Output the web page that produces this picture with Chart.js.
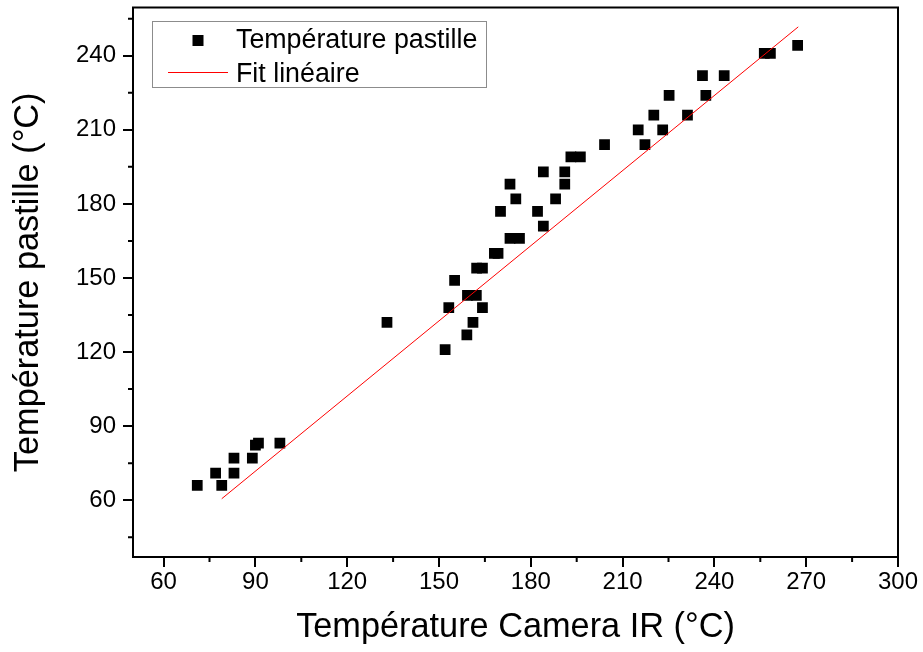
<!DOCTYPE html>
<html>
<head>
<meta charset="utf-8">
<script src="https://cdn.jsdelivr.net/npm/chart.js@4/dist/chart.umd.min.js"></script>
<style>
html, body { margin: 0; padding: 0; background: #fff; }
#wrap { width: 923px; height: 652px; }
</style>
</head>
<body>
<div id="wrap"><canvas id="chart"></canvas></div>
<script>
// data
const camera = [71, 77, 79, 83, 83, 89, 90, 91, 98, 133, 152, 153.2, 155.1, 159.1, 159.3, 161.1, 162.2, 162.3, 164.2, 164.2,
    168.1, 169.3, 170.1, 173.2, 173.2, 175.1, 176.3, 182.2, 184.1, 184.1, 188.1, 191.1, 191.1, 193.1, 196.2,
    204.1, 215.1, 217.3, 220.2, 223.1, 225.2, 231.2, 236.1, 237.2, 243.2, 256.3, 258.3, 267.2];
const pastille = [66, 71, 66, 77, 71, 77, 82.3, 83.1, 83.1, 132, 121, 138, 149, 127, 143, 132, 143, 154, 138, 154,
    160, 160, 177, 166, 188, 182, 166, 177, 171, 193, 182, 188, 193, 199, 199,
    204, 210, 204, 216, 210, 224, 216, 232, 224, 232, 241, 241, 244.2];
const fitX = [79, 267.4];
const fitY = [60.6, 251.7];
const names = ["Température pastille", "Fit linéaire"];
const xTitle = "Température Camera IR (°C)";
const yTitle = "Température pastille (°C)";

const FONT = "'Liberation Sans', Arial, sans-serif";

const frame = {
    id: "frame",
    afterDraw(c) {
        const {ctx, chartArea: a, scales} = c;
        ctx.save();
        ctx.strokeStyle = "#000";
        ctx.lineWidth = 2;
        ctx.beginPath();
        ctx.moveTo(a.left - 1, a.top);
        ctx.lineTo(a.right, a.top);
        ctx.lineTo(a.right, a.bottom + 1);
        ctx.stroke();

        // minor ticks halfway between the major ones
        ["x", "y"].forEach(id => {
            const s = scales[id];
            const vals = new Set();
            s.ticks.forEach(t => { vals.add(t.value - 15); vals.add(t.value + 15); });
            ctx.beginPath();
            vals.forEach(v => {
                if (v <= s.min || v >= s.max) return;
                const p = s.getPixelForValue(v);
                if (id === "x") { ctx.moveTo(p, a.bottom); ctx.lineTo(p, a.bottom + 5); }
                else { ctx.moveTo(a.left, p); ctx.lineTo(a.left - 5, p); }
            });
            ctx.stroke();
        });

        // legend box
        const ds = c.data.datasets;
        ctx.lineWidth = 1;
        ctx.strokeStyle = "#8c8c8c";
        ctx.strokeRect(152.5, 21.5, 334, 66);
        ctx.font = "26.8px " + FONT;
        ctx.fillStyle = "#000";
        ctx.textBaseline = "alphabetic";
        ctx.fillText(ds[1].label, 236, 48);
        ctx.fillText(ds[0].label, 236, 81.5);
        ctx.fillStyle = ds[1].backgroundColor;
        ctx.fillRect(192.5, 35, 11, 11);
        ctx.strokeStyle = ds[0].borderColor;
        ctx.beginPath();
        ctx.moveTo(168, 72.5);
        ctx.lineTo(228, 72.5);
        ctx.stroke();
        ctx.restore();
    }
};

new Chart(document.getElementById("chart"), {
    type: "scatter",
    data: {
        datasets: [{
            label: names[1],
            data: fitX.map((x, i) => ({x: x, y: fitY[i]})),
            showLine: true,
            borderColor: "rgb(255 0 0)",
            borderWidth: 1,
            pointRadius: 0,
            order: 0
        }, {
            label: names[0],
            data: camera.map((x, i) => ({x: x, y: pastille[i]})),
            pointStyle: "rect",
            pointRadius: 7.6,
            backgroundColor: "#000",
            borderWidth: 0,
            order: 1
        }]
    },
    plugins: [frame],
    options: {
        responsive: true,
        maintainAspectRatio: false,
        animation: false,
        layout: {padding: {top: 5, right: 25, left: 0, bottom: 0}},
        plugins: {legend: {display: false}, tooltip: {enabled: false}},
        scales: {
            x: {
                type: "linear",
                min: 50,
                max: 300,
                afterFit: s => { s.height = 95; s.paddingLeft = 0; s.paddingRight = 0; },
                ticks: {stepSize: 30, includeBounds: false, padding: 1, color: "#000", font: {family: FONT, size: 24}},
                grid: {drawOnChartArea: false, tickLength: 10, color: "#000", lineWidth: 2},
                border: {color: "#000", width: 2},
                title: {display: true, text: xTitle, color: "#000", font: {family: FONT, size: 34.3}, padding: {bottom: 4}}
            },
            y: {
                type: "linear",
                min: 37,
                max: 259.5,
                afterFit: s => { s.width = 133; s.paddingTop = 0; s.paddingBottom = 0; },
                ticks: {stepSize: 30, includeBounds: false, padding: 7, color: "#000", font: {family: FONT, size: 24}},
                grid: {drawOnChartArea: false, tickLength: 10, color: "#000", lineWidth: 2},
                border: {color: "#000", width: 2},
                title: {display: true, text: yTitle, color: "#000", font: {family: FONT, size: 34.3}, padding: {top: 8}}
            }
        }
    }
});
</script>
</body>
</html>
